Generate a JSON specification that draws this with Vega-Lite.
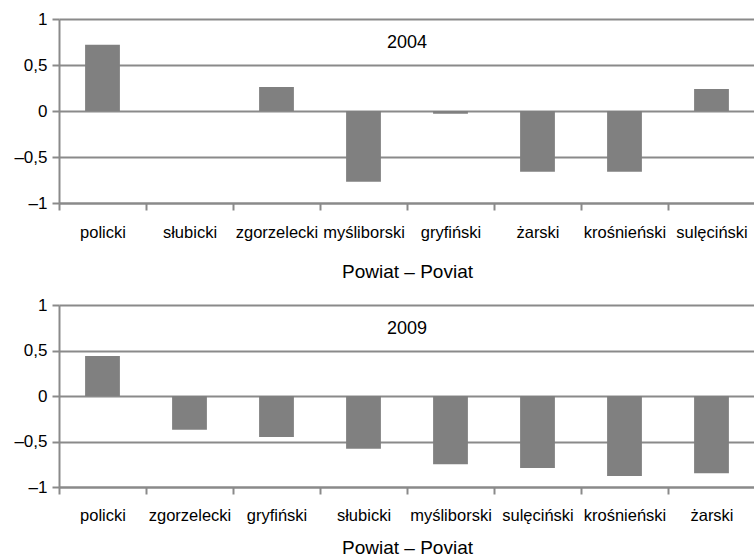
{
  "$schema": "https://vega.github.io/schema/vega-lite/v6.json",
  "background": "white",
  "padding": {"left": 13, "top": 10, "right": 0, "bottom": 0},
  "spacing": 14,
  "config": {
    "view": {"stroke": null},
    "font": "Liberation Sans",
    "axis": {
      "labelFont": "Liberation Sans",
      "labelFontSize": 16.5,
      "labelColor": "#000000",
      "titleFont": "Liberation Sans",
      "titleFontSize": 19,
      "titleFontWeight": "normal",
      "titleColor": "#000000",
      "domainColor": "#8a8a8a",
      "domainWidth": 2,
      "tickColor": "#8a8a8a",
      "tickWidth": 2,
      "gridColor": "#8a8a8a",
      "gridWidth": 2
    }
  },
  "vconcat": [
    {
      "width": 696,
      "height": 184,
      "layer": [
        {
          "data": {"values": [
            {"powiat": "policki", "value": 0.72},
            {"powiat": "słubicki", "value": 0.0},
            {"powiat": "zgorzelecki", "value": 0.26},
            {"powiat": "myśliborski", "value": -0.77},
            {"powiat": "gryfiński", "value": -0.03},
            {"powiat": "żarski", "value": -0.66},
            {"powiat": "krośnieński", "value": -0.66},
            {"powiat": "sulęciński", "value": 0.24}
          ]},
          "mark": {"type": "bar", "color": "#808080", "width": {"band": 0.4}},
          "encoding": {
            "x": {"field": "powiat", "type": "nominal", "sort": null,
                  "scale": {"paddingInner": 0, "paddingOuter": 0},
                  "axis": {"title": "Powiat – Poviat", "labelAngle": 0, "tickBand": "extent", "tickSize": 7, "labelPadding": 14, "titlePadding": 22}},
            "y": {"field": "value", "type": "quantitative",
                  "scale": {"domain": [-1, 1], "nice": false},
                  "axis": {"title": null, "values": [-1, -0.5, 0, 0.5, 1], "tickSize": 7, "labelPadding": 5, "labelFontSize": 17,
                           "labelExpr": "(datum.value < 0 ? '–' : '') + replace(format(abs(datum.value), '~g'), '.', ',')"}}
          }
        },
        {
          "data": {"values": [{"label": "2004"}]},
          "mark": {"type": "text", "fontSize": 18, "font": "Liberation Sans", "color": "#000000"},
          "encoding": {"text": {"field": "label"}, "y": {"datum": 0.74}}
        }
      ]
    },
    {
      "width": 696,
      "height": 182,
      "layer": [
        {
          "data": {"values": [
            {"powiat": "policki", "value": 0.44},
            {"powiat": "zgorzelecki", "value": -0.37},
            {"powiat": "gryfiński", "value": -0.45},
            {"powiat": "słubicki", "value": -0.58},
            {"powiat": "myśliborski", "value": -0.75},
            {"powiat": "sulęciński", "value": -0.79},
            {"powiat": "krośnieński", "value": -0.88},
            {"powiat": "żarski", "value": -0.85}
          ]},
          "mark": {"type": "bar", "color": "#808080", "width": {"band": 0.4}},
          "encoding": {
            "x": {"field": "powiat", "type": "nominal", "sort": null,
                  "scale": {"paddingInner": 0, "paddingOuter": 0},
                  "axis": {"title": "Powiat – Poviat", "labelAngle": 0, "tickBand": "extent", "tickSize": 7, "labelPadding": 13, "titlePadding": 15}},
            "y": {"field": "value", "type": "quantitative",
                  "scale": {"domain": [-1, 1], "nice": false},
                  "axis": {"title": null, "values": [-1, -0.5, 0, 0.5, 1], "tickSize": 7, "labelPadding": 5, "labelFontSize": 17,
                           "labelExpr": "(datum.value < 0 ? '–' : '') + replace(format(abs(datum.value), '~g'), '.', ',')"}}
          }
        },
        {
          "data": {"values": [{"label": "2009"}]},
          "mark": {"type": "text", "fontSize": 18, "font": "Liberation Sans", "color": "#000000"},
          "encoding": {"text": {"field": "label"}, "y": {"datum": 0.74}}
        }
      ]
    }
  ]
}
